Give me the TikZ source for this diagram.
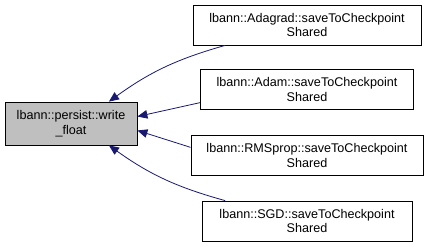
\documentclass[tikz,border=0pt]{standalone}
\usepackage{fontspec}
\setmainfont{Liberation Sans}
\usepackage{tikz}
\usetikzlibrary{arrows.meta,positioning}
\definecolor{edge}{HTML}{191970}
\definecolor{cur}{HTML}{BFBFBF}
\tikzset{fn/.style={draw=black,line width=.8pt,fill=white,align=center,inner sep=0pt,
    minimum height=40pt,font=\fontsize{12.6}{14.5}\selectfont},
  cur/.style={fn,fill=cur},
  call/.style={draw=edge,line width=.8pt,-{Triangle[length=10pt,width=8.5pt]},shorten >=0pt}}

\begin{document}
\begin{tikzpicture}[x=1pt,y=-1pt]
\useasboundingbox (0,0) rectangle (429,247);
% the function and its callers
\node[cur,minimum width=132pt,minimum height=43pt] (wf) at (71,123.5) {lbann::persist::write\\\_float};
\node[fn,minimum width=228pt] (adagrad) at (307,25) {lbann::Adagrad::saveToCheckpoint\\Shared};
\node[fn,minimum width=213pt] (adam) at (307,89.5) {lbann::Adam::saveToCheckpoint\\Shared};
\node[fn,minimum width=232pt] (rms) at (307,155.5) {lbann::RMSprop::saveToCheckpoint\\Shared};
\node[fn,minimum width=210pt] (sgd) at (307,221) {lbann::SGD::saveToCheckpoint\\Shared};
% calls
\draw[call] (adagrad.194) to[bend right=10] (wf.30);
\draw[call] (adam.187) -- (wf.6);
\draw[call] (rms.176) -- (wf.-6);
\draw[call] (sgd.166) to[bend left=10] (wf.-30);
\end{tikzpicture}
\end{document}
